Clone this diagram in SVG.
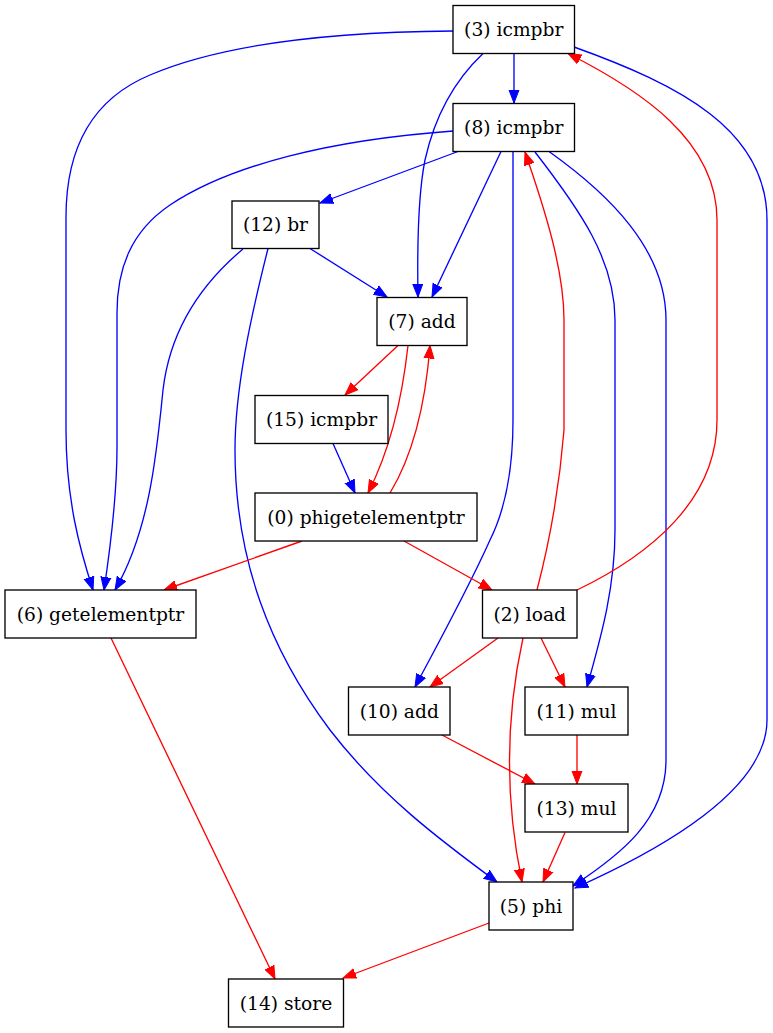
<svg xmlns="http://www.w3.org/2000/svg" width="773" height="1033" viewBox="0 0 773 1033">
<style>
.node rect{fill:#fff;stroke:#000;stroke-width:1.33}
.node text{font-family:"DejaVu Serif",serif;font-size:18.67px;fill:#000;text-anchor:middle}
.b{fill:none;stroke:#0000ff;stroke-width:1.33;marker-end:url(#ab)}
.r{fill:none;stroke:#ff0000;stroke-width:1.33;marker-end:url(#ar)}
</style>
<defs>
<marker id="ab" markerUnits="userSpaceOnUse" markerWidth="14" markerHeight="12" refX="13" refY="6" orient="auto"><path d="M0,1 L13,6 L0,11 z" fill="#0000ff" stroke="#0000ff" stroke-width="1"/></marker>
<marker id="ar" markerUnits="userSpaceOnUse" markerWidth="14" markerHeight="12" refX="13" refY="6" orient="auto"><path d="M0,1 L13,6 L0,11 z" fill="#ff0000" stroke="#ff0000" stroke-width="1"/></marker>
</defs>
<rect width="773" height="1033" fill="#fff"/>
<g id="connectors">
<path class="b" d="M514,53.5 L514,103"/>
<path class="b" d="M453,31 C330,32 220,45 150,75 C90,100 66,150 66,217 L66,430 C66,500 80,550 93,590"/>
<path class="b" d="M453,131 C330,140 230,165 170,205 C130,232 117,270 117,313 L117,447 C117,500 110,550 104,590"/>
<path class="b" d="M243,249 C200,285 170,330 163,390 C157,450 150,530 115,590"/>
<path class="b" d="M483,53.5 C455,80 435,115 425,160 C418,195 417,240 418,297"/>
<path class="b" d="M501,151.5 L432,297"/>
<path class="b" d="M458,151.5 L320,203"/>
<path class="b" d="M310,248.5 L387,297"/>
<path class="b" d="M268,248.5 C250,320 235,390 235,450 C235,560 270,650 330,730 C380,795 440,840 497,882"/>
<path class="b" d="M513,151.5 L513,420 C513,470 505,510 490,540 C470,585 440,640 415,687"/>
<path class="b" d="M535,152 C580,210 615,260 615,320 L615,530 C615,590 600,640 587,687"/>
<path class="b" d="M549,151.5 C610,195 666,250 666,320 L666,760 C666,820 620,855 573,886"/>
<path class="b" d="M574,47 C680,85 767,130 767,220 L767,720 C767,790 660,850 575,888"/>
<path class="b" d="M333,443.5 L355,493"/>
<path class="r" d="M398,345.5 L345,395"/>
<path class="r" d="M408,345.5 C402,400 390,450 368,493"/>
<path class="r" d="M390,493 C410,460 425,410 430,345.5"/>
<path class="r" d="M302,541 L164,590"/>
<path class="r" d="M404,541 L492,590"/>
<path class="r" d="M537,590 C550,540 560,480 564,430 L564,320 C564,270 545,210 525,152"/>
<path class="r" d="M577,590 C650,555 717,500 717,420 L717,220 C717,140 640,90 568,53.5"/>
<path class="r" d="M498,638 L430,687"/>
<path class="r" d="M541,638 L565,687"/>
<path class="r" d="M523,638 C505,720 505,800 522,882"/>
<path class="r" d="M442,735 L535,784"/>
<path class="r" d="M577,735 L577,784"/>
<path class="r" d="M565,832.5 L543,882"/>
<path class="r" d="M111,638 L275,979"/>
<path class="r" d="M489,923 L343,978"/>
</g>
<g id="n3" class="node"><rect x="453" y="5.5" width="121.5" height="48"/><text x="513.75" y="36">(3) icmpbr</text></g>
<g id="n8" class="node"><rect x="453" y="103.5" width="121.5" height="48"/><text x="513.75" y="134">(8) icmpbr</text></g>
<g id="n12" class="node"><rect x="232" y="201" width="87" height="47.5"/><text x="275.5" y="231">(12) br</text></g>
<g id="n7" class="node"><rect x="377" y="297.5" width="90" height="48"/><text x="422" y="328">(7) add</text></g>
<g id="n15" class="node"><rect x="255" y="395.5" width="133" height="48"/><text x="321.5" y="426">(15) icmpbr</text></g>
<g id="n0" class="node"><rect x="255" y="493" width="222" height="48"/><text x="366" y="523.5">(0) phigetelementptr</text></g>
<g id="n6" class="node"><rect x="5" y="590" width="191" height="48"/><text x="100.5" y="620.5">(6) getelementptr</text></g>
<g id="n2" class="node"><rect x="482.5" y="590" width="94.5" height="48"/><text x="529.75" y="620.5">(2) load</text></g>
<g id="n10" class="node"><rect x="348.5" y="687" width="101.5" height="48"/><text x="399.25" y="717.5">(10) add</text></g>
<g id="n11" class="node"><rect x="525" y="687" width="103" height="48"/><text x="576.5" y="717.5">(11) mul</text></g>
<g id="n13" class="node"><rect x="525" y="784" width="103" height="48"/><text x="576.5" y="814.5">(13) mul</text></g>
<g id="n5" class="node"><rect x="489" y="882" width="84" height="48"/><text x="531" y="912.5">(5) phi</text></g>
<g id="n14" class="node"><rect x="228.5" y="979" width="115" height="48"/><text x="286" y="1009.5">(14) store</text></g>
</svg>
